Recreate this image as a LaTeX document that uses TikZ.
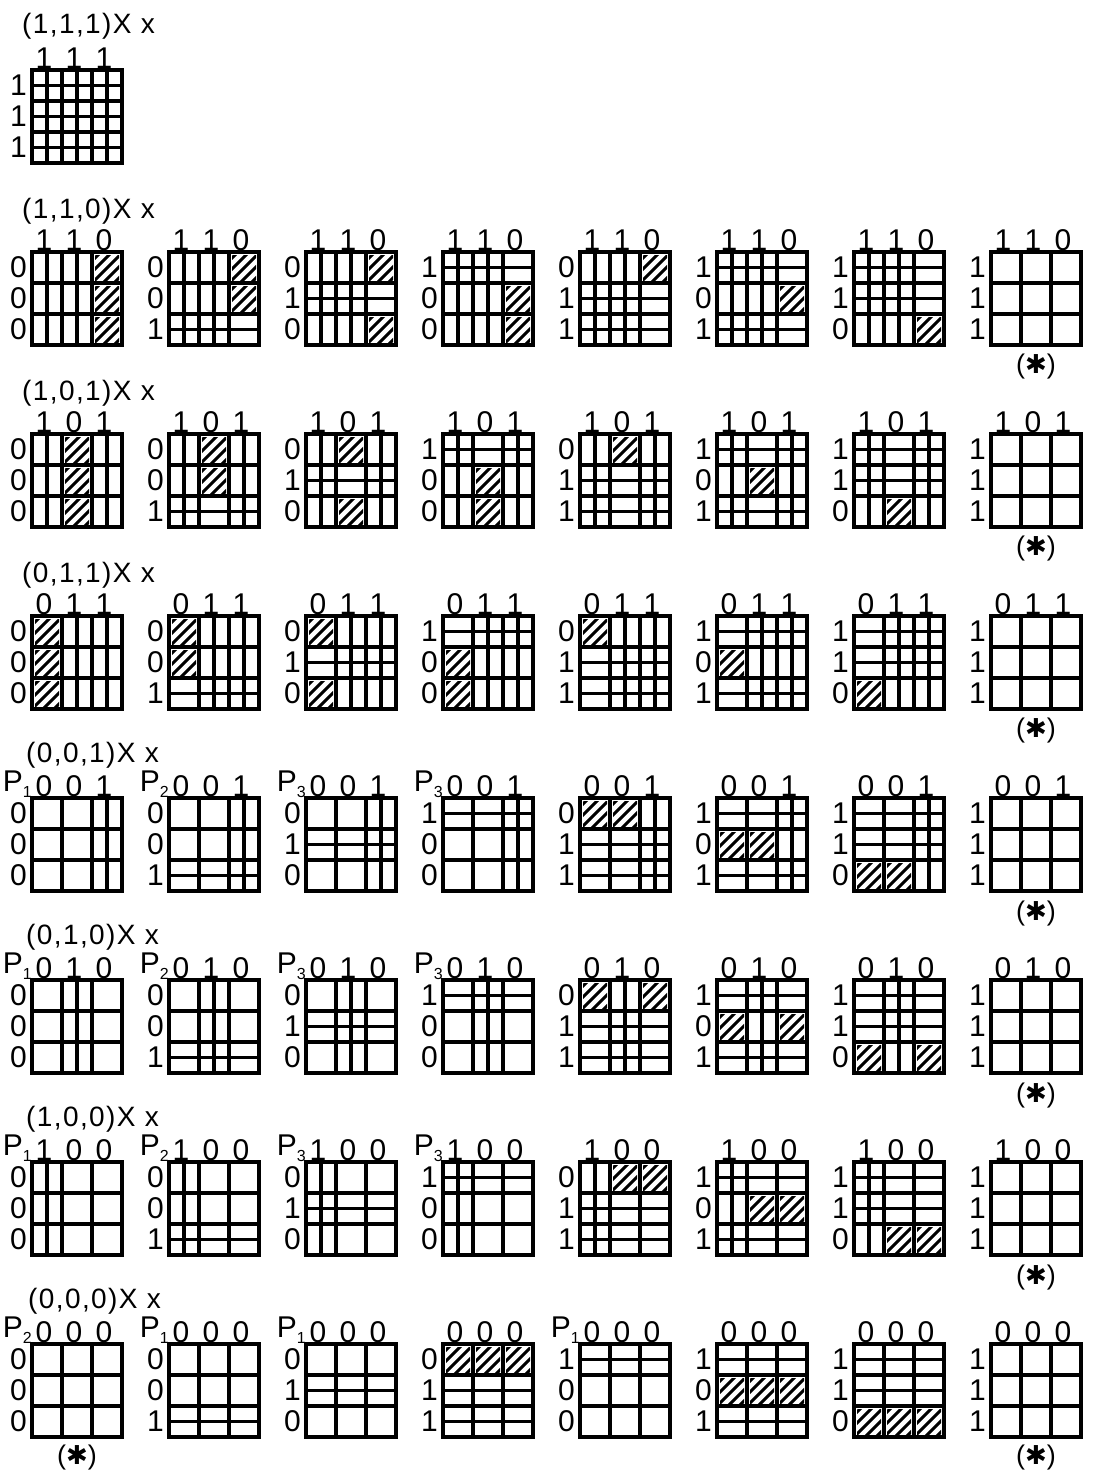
\documentclass[tikz,border=0pt]{standalone}
\usepackage{fontspec}
\setmainfont{Liberation Sans}
\newfontfamily\symfont{DejaVu Sans}
\newfontfamily\headfont[LetterSpace=5]{Liberation Sans}

\newcommand{\cellw}{30}
\newcommand{\cellh}{31}
\newcommand{\bitfont}{\fontsize{30}{30}\selectfont}
\newcommand{\starsym}{{\symfont\fontsize{26}{26}\selectfont ✱}}
\newcommand{\psub}[1]{P\raisebox{-6pt}{\fontsize{16}{16}\selectfont #1}}

% one map: name, left, top, column bits, row bits, mode (0 plain bits, 1 hatched, 2 no splits)
\newcommand{\kmap}[6]{%
  \edef\kmcols{#4}\edef\kmrows{#5}%
  \begin{scope}[shift={(#2,#3)}]
    \ifnum#6=1
      \foreach \cb [count=\ci from 0] in \kmcols {%
        \foreach \rb [count=\ri from 0] in \kmrows {%
          \ifnum\cb\rb=0
            \begin{scope}
              \clip ({\ci*\cellw+3},{\ri*\cellh+3}) rectangle ++({\cellw-6},{\cellh-6});
              \foreach \s in {-33,-22,...,33}
                {\draw[hatchline] ({\ci*\cellw+\s},{(\ri+1)*\cellh}) -- ++(\cellh,-\cellh);}
            \end{scope}
          \fi
        }%
      }%
    \fi
    \ifnum#6<2
      \foreach \cb [count=\ci from 0] in \kmcols {%
        \ifnum\cb=1 \draw[gridline] ({(\ci+0.5)*\cellw},0) -- ++(0,{3*\cellh}); \fi
      }%
      \foreach \rb [count=\ri from 0] in \kmrows {%
        \ifnum\rb=1 \draw[gridline] (0,{(\ri+0.5)*\cellh}) -- ++({3*\cellw},0); \fi
      }%
    \fi
    \draw[gridline] (0,0) rectangle ({3*\cellw},{3*\cellh});
    \foreach \kk in {1,2} {%
      \draw[gridline] ({\kk*\cellw},0) -- ++(0,{3*\cellh});
      \draw[gridline] (0,{\kk*\cellh}) -- ++({3*\cellw},0);
    }%
    \foreach \cb [count=\ci from 0] in \kmcols
      {\node[bit,anchor=south] (#1-c\ci) at ({(\ci+0.5)*\cellw-3},-1) {\cb};}%
    \foreach \rb [count=\ri from 0] in \kmrows
      {\node[bit,anchor=east] (#1-r\ri) at (-5,{(\ri+0.5)*\cellh}) {\rb};}%
  \end{scope}%
}

\begin{document}
\begin{tikzpicture}[x=1pt,y=-1pt,
  gridline/.style={line width=3.2pt,line cap=rect},
  hatchline/.style={line width=3pt},
  bit/.style={font=\bitfont,inner sep=0pt},
  head/.style={font=\headfont\fontsize{28}{28}\selectfont,inner sep=0pt,anchor=west},
  plab/.style={font=\bitfont,inner sep=0pt,anchor=base east},
  starlab/.style={font=\fontsize{27}{27}\selectfont,inner sep=0pt}]
\useasboundingbox (0,0) rectangle (1093,1476);

% (1,1,1)
\node[head] (head0) at (22,26) {(1,1,1)X x};
\kmap{m0-0}{32}{70}{1,1,1}{1,1,1}{0}

% every map hatched
\foreach \tup [count=\rw] in {{1,1,0},{1,0,1},{0,1,1}}{
  \node[head] (head\rw) at (22,{70+182*\rw-41}) {(\tup)X x};
  \foreach \rs [count=\tn from 0] in {{0,0,0},{0,0,1},{0,1,0},{1,0,0},{0,1,1},{1,0,1},{1,1,0}}{
    \kmap{m\rw-\tn}{32+137*\tn}{70+182*\rw}{\tup}{\rs}{1}
  }
  \kmap{m\rw-7}{991}{70+182*\rw}{\tup}{1,1,1}{2}
  \node[starlab] (star\rw) at (1036,{70+182*\rw+115}) {(\starsym)};
}

% first four maps carry P
\foreach \tup [count=\rw from 4] in {{0,0,1},{0,1,0},{1,0,0}}{
  \node[head] (head\rw) at (26,{70+182*\rw-43}) {(\tup)X x};
  \foreach \rs [count=\tn from 0] in {{0,0,0},{0,0,1},{0,1,0},{1,0,0}}{
    \pgfmathtruncatemacro\pn{min(\tn+1,3)}
    \kmap{m\rw-\tn}{32+137*\tn}{70+182*\rw}{\tup}{\rs}{0}
    \node[plab] (p\rw-\tn) at ({32+137*\tn},{70+182*\rw-7}) {\psub{\pn}};
  }
  \foreach \rs [count=\tn from 4] in {{0,1,1},{1,0,1},{1,1,0}}{
    \kmap{m\rw-\tn}{32+137*\tn}{70+182*\rw}{\tup}{\rs}{1}
  }
  \kmap{m\rw-7}{991}{70+182*\rw}{\tup}{1,1,1}{2}
  \node[starlab] (star\rw) at (1036,{70+182*\rw+115}) {(\starsym)};
}

% (0,0,0)
\node[head] (head7) at (28,1301) {(0,0,0)X x};
\kmap{m7-0}{32}{1344}{0,0,0}{0,0,0}{0}
\kmap{m7-1}{169}{1344}{0,0,0}{0,0,1}{0}
\kmap{m7-2}{306}{1344}{0,0,0}{0,1,0}{0}
\kmap{m7-3}{443}{1344}{0,0,0}{0,1,1}{1}
\kmap{m7-4}{580}{1344}{0,0,0}{1,0,0}{0}
\kmap{m7-5}{717}{1344}{0,0,0}{1,0,1}{1}
\kmap{m7-6}{854}{1344}{0,0,0}{1,1,0}{1}
\kmap{m7-7}{991}{1344}{0,0,0}{1,1,1}{2}
\node[plab] (p7-0) at (32,1337) {\psub{2}};
\node[plab] (p7-1) at (169,1337) {\psub{1}};
\node[plab] (p7-2) at (306,1337) {\psub{1}};
\node[plab] (p7-4) at (580,1337) {\psub{1}};
\node[starlab] (star7a) at (77,1457) {(\starsym)};
\node[starlab] (star7b) at (1036,1457) {(\starsym)};
\end{tikzpicture}
\end{document}
